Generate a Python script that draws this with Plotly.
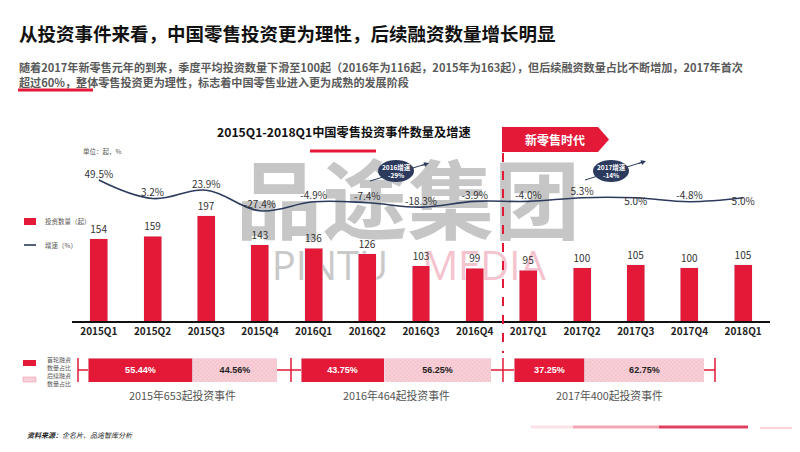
import plotly.graph_objects as go

# ---------------- data ----------------
quarters = ["2015Q1", "2015Q2", "2015Q3", "2015Q4", "2016Q1", "2016Q2", "2016Q3",
            "2016Q4", "2017Q1", "2017Q2", "2017Q3", "2017Q4", "2018Q1"]
investments = [154, 159, 197, 143, 136, 126, 103, 99, 95, 100, 105, 100, 105]
growth = [49.5, 3.2, 23.9, -27.4, -4.9, -7.4, -18.3, -3.9, -4.0, 5.3, 5.0, -4.8, 5.0]
growth_below = [False, False, False, False, False, False, False, False, False, False, True, False, True]

year_labels = ["2015年653起投资事件", "2016年464起投资事件", "2017年400起投资事件"]
first_round = [55.44, 43.75, 37.25]
follow_on = [44.56, 56.25, 62.75]

main_title = "从投资事件来看，中国零售投资更为理性，后续融资数量增长明显"
sub_line1 = "随着2017年新零售元年的到来，季度平均投资数量下滑至100起（2016年为116起，2015年为163起），但后续融资数量占比不断增加，2017年首次"
sub_line2 = "超过60%，整体零售投资更为理性，标志着中国零售业进入更为成熟的发展阶段"
chart_title = "2015Q1-2018Q1中国零售投资事件数量及增速"

# ---------------- style ----------------
W, H = 800, 452
RED = "#E31937"
NAVY = "#2C3A5E"
PINK_BG = "#f8d0d8"
PINK_FG = "#ec8ea1"
FONT = "Noto Sans CJK SC, Noto Sans, sans-serif"


def X(px):
    return px / W


def Y(py):
    return 1 - py / H


fig = go.Figure()

# watermark (own subplot, drawn first so it sits beneath the bars)
fig.add_trace(go.Scatter(
    x=[400], y=[203], mode="text", text=["品途集团"],
    textfont=dict(size=86, color="#c6c6c6", family=FONT, weight="bold"),
    xaxis="x", yaxis="y", hoverinfo="skip", showlegend=False))
fig.add_trace(go.Scatter(
    x=[322, 476], y=[262, 262], mode="text", text=["PINTU", "MEDIA"],
    textfont=dict(size=40, color=["#c9c9c9", "#f5c3ce"], family="Open Sans"),
    xaxis="x", yaxis="y", hoverinfo="skip", showlegend=False))

# main bars
fig.add_trace(go.Bar(
    x=quarters, y=investments, marker_color=RED,
    text=[str(v) for v in investments], textposition="outside",
    textfont=dict(size=10, color="#333333", family=FONT),
    cliponaxis=False, xaxis="x2", yaxis="y2", showlegend=False, hoverinfo="skip"))

# growth line
fig.add_trace(go.Scatter(
    x=quarters, y=growth, mode="lines+text",
    line=dict(color=NAVY, width=1.6, shape="spline", smoothing=1.1),
    text=[f"{v:.1f}%" for v in growth],
    textposition=["bottom center" if b else "top center" for b in growth_below],
    textfont=dict(size=10, color="#333333", family=FONT),
    cliponaxis=False, xaxis="x2", yaxis="y3", showlegend=False, hoverinfo="skip"))

# bottom share bars
group_domains = [(80, 269), (293, 483), (506, 696)]
for i in range(3):
    xa = f"x{3 + i}"
    ya = f"y{4 + i}"
    fig.add_trace(go.Bar(
        x=[first_round[i]], y=[0], orientation="h", width=1, marker_color=RED,
        text=[f"{first_round[i]:.2f}%"], textposition="inside", insidetextanchor="middle",
        textfont=dict(size=9, color="white", family="Arial", weight="bold"),
        xaxis=xa, yaxis=ya, showlegend=False, hoverinfo="skip"))
    fig.add_trace(go.Bar(
        x=[follow_on[i]], y=[0], orientation="h", width=1,
        marker=dict(color=PINK_BG, pattern=dict(shape="x", fgcolor=PINK_FG, bgcolor=PINK_BG,
                                                size=3, solidity=0.25)),
        text=[f"{follow_on[i]:.2f}%"], textposition="inside", insidetextanchor="middle",
        textfont=dict(size=9, color="#222222", family="Arial", weight="bold"),
        xaxis=xa, yaxis=ya, showlegend=False, hoverinfo="skip"))

layout = dict(
    width=W, height=H, margin=dict(l=0, r=0, t=0, b=0),
    paper_bgcolor="white", plot_bgcolor="rgba(0,0,0,0)",
    barmode="stack", bargap=0.665, showlegend=False,
    font=dict(family=FONT),
    xaxis=dict(domain=[0, 1], range=[0, W], visible=False, anchor="y", fixedrange=True),
    yaxis=dict(domain=[0, 1], range=[H, 0], visible=False, anchor="x", fixedrange=True),
    xaxis2=dict(domain=[X(64), X(762)], anchor="y2", type="category", range=[-0.5, 12.5],
                showline=True, linecolor="#111111", linewidth=1.5, ticks="", showgrid=False,
                tickfont=dict(size=10, color="#222222", family=FONT, weight="bold")),
    yaxis2=dict(domain=[Y(313), Y(110)], range=[0, 380], visible=False, anchor="x2"),
    yaxis3=dict(domain=[Y(313), Y(110)], range=[-303, 204.5], visible=False,
                overlaying="y2", anchor="x2"),
)
for i, (a, b) in enumerate(group_domains):
    layout[f"xaxis{3 + i}"] = dict(domain=[X(a), X(b)], range=[0, 100], visible=False,
                                   anchor=f"y{4 + i}")
    layout[f"yaxis{4 + i}"] = dict(domain=[Y(374), Y(350)], range=[-0.5, 0.5], visible=False,
                                   anchor=f"x{3 + i}")
fig.update_layout(**layout)

shapes = []


def line(x0, y0, x1, y1, color, width=1.5, dash="solid"):
    shapes.append(dict(type="line", xref="paper", yref="paper", x0=X(x0), y0=Y(y0),
                       x1=X(x1), y1=Y(y1), line=dict(color=color, width=width, dash=dash)))


# header underline
line(10, 82, 85, 82, RED, 3)
# chart title underline
line(302, 143, 368, 143, RED, 3)
# era divider
line(495, 145, 495, 345, RED, 2, "dash")
# banner
bx = [494, 590, 601, 590, 494]
by = [119, 119, 131.5, 144, 144]
path = "M " + " L ".join(f"{X(a):.5f},{Y(b):.5f}" for a, b in zip(bx, by)) + " Z"
shapes.append(dict(type="path", xref="paper", yref="paper", path=path,
                   fillcolor=RED, line=dict(width=0)))
# brackets around share bars
line(70, 350, 70, 374, RED)
line(70, 362, 80, 362, RED)
line(269, 362, 293, 362, RED)
line(283, 350, 283, 374, RED)
line(483, 362, 506, 362, RED)
line(495, 350, 495, 374, RED)
line(696, 362, 707, 362, RED)
line(707, 350, 707, 374, RED)
# bubble arrows + bubbles
line(362, 173, 418, 156, NAVY, 1)
line(577, 172, 635, 154, NAVY, 1)
for cx, cy in [(388, 163), (603, 163)]:
    shapes.append(dict(type="circle", xref="paper", yref="paper",
                       x0=X(cx - 18), x1=X(cx + 18), y0=Y(cy + 11), y1=Y(cy - 11),
                       fillcolor=NAVY, line=dict(color=NAVY, width=0)))
# legend marks
shapes.append(dict(type="rect", xref="paper", yref="paper", x0=X(16), x1=X(28), y0=Y(217), y1=Y(210),
                   fillcolor=RED, line=dict(width=0)))
line(16, 237, 28, 237, NAVY, 1.6)
shapes.append(dict(type="rect", xref="paper", yref="paper", x0=X(15), x1=X(28), y0=Y(358), y1=Y(352),
                   fillcolor=RED, line=dict(width=0)))
shapes.append(dict(type="rect", xref="paper", yref="paper", x0=X(15), x1=X(28), y0=Y(374), y1=Y(369),
                   fillcolor=PINK_BG, line=dict(color=PINK_FG, width=0.5)))
# decorative footer lines
line(523, 419, 565, 419, "#fbe2e7", 3)
line(565, 419, 651, 419, "#f3a6b5", 3)
line(651, 419, 740, 419, "#e0405e", 3)
line(752, 420, 790, 420, "#f3a6b5", 1.2)
line(753, 451, 790, 451, "#f3a6b5", 1.2)
fig.update_layout(shapes=shapes)

ann = []


def text(x, y, s, size, color="#333333", xanchor="left", weight="normal", style="normal"):
    ann.append(dict(x=X(x), y=Y(y), xref="paper", yref="paper", text=s, showarrow=False,
                    xanchor=xanchor, yanchor="middle", align="left" if xanchor == "left" else "center",
                    font=dict(size=size, color=color, family=FONT, weight=weight, style=style)))


text(9, 25, main_title, 18.5, "#111111", weight="bold")
text(9, 59, sub_line1, 11.1, "#5a5a5a", weight="bold")
text(9, 74, sub_line2, 11.1, "#5a5a5a", weight="bold")
text(336, 124, chart_title, 12.2, "#111111", "center", weight="bold")
text(547, 131.5, "新零售时代", 12, "white", "center", weight="bold")
text(73, 143, "单位：起，%", 6.5, "#555555")
text(35, 213, "投资数量（起）", 6.5, "#555555")
text(35, 237, "增速（%）", 6.5, "#555555")
text(37, 355, "首轮融资<br>数量占比", 6, "#555555")
text(37, 371, "后续融资<br>数量占比", 6, "#555555")
text(388, 163, "2016增速<br>-29%", 6.5, "white", "center", weight="bold")
text(603, 163, "2017增速<br>-14%", 6.5, "white", "center", weight="bold")
for lbl, (a, b) in zip(year_labels, group_domains):
    text((a + b) / 2, 387, lbl, 10.8, "#555555", "center")
text(17, 427, "<b>资料来源：</b>企名片、品途智库分析", 7, "#222222", style="italic")
# arrowheads
for hx, hy in [(421, 155), (638, 153)]:
    ann.append(dict(x=X(hx), y=Y(hy), xref="paper", yref="paper", text="", showarrow=True,
                    ax=-9, ay=3, arrowhead=2, arrowsize=1, arrowwidth=1, arrowcolor=NAVY))
fig.update_layout(annotations=ann)

fig.write_html("out.html")
